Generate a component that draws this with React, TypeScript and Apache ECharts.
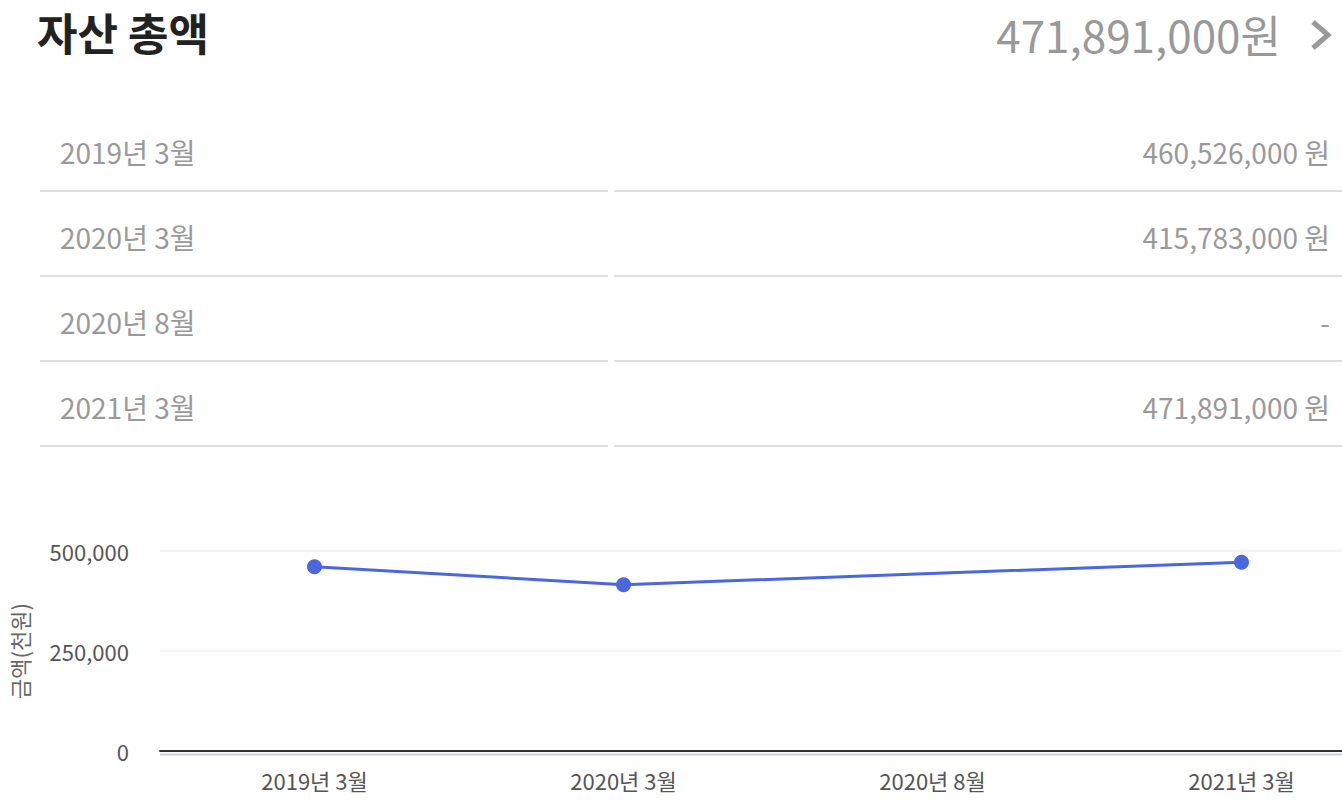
import React, { useEffect, useRef } from "react";
import * as echarts from "echarts";

const titleText = "자산 총액";
const categories = ["2019년 3월", "2020년 3월", "2020년 8월", "2021년 3월"];
// 자산 총액, 단위: 천원
const assetValues: (number | null)[] = [460526, 415783, null, 471891];
const yTicks = [0, 250000, 500000];
const yAxisName = "금액(천원)";

const FONT = "'Noto Sans CJK KR', 'Noto Sans', sans-serif";

function fmtWon(v: number | null, space: boolean) {
  if (v === null) return "-";
  return (v * 1000).toLocaleString("en-US") + (space ? " 원" : "원");
}

export default function App() {
  const ref = useRef<HTMLDivElement>(null);
  useEffect(() => {
    if (!ref.current) return;
    const chart = echarts.init(ref.current, undefined, { renderer: "svg" });
    const latest = [...assetValues].reverse().find((v) => v !== null) ?? null;
    const rowTop = 106;
    const rowH = 85;
    const graphics: any[] = [
      {
        type: "text",
        x: 37,
        y: 32,
        style: { text: titleText, font: `bold 44px ${FONT}`, fill: "#222", verticalAlign: "middle" },
      },
      {
        type: "text",
        x: 1281,
        y: 34,
        style: {
          text: fmtWon(latest, false),
          font: `44px ${FONT}`,
          fill: "#999",
          align: "right",
          verticalAlign: "middle",
        },
      },
      {
        type: "polyline",
        shape: { points: [[1313, 22], [1328, 35], [1313, 48]] },
        style: { stroke: "#999", lineWidth: 5, fill: null },
      },
      {
        type: "line",
        shape: { x1: 160, y1: 754.5, x2: 1400, y2: 754.5 },
        style: { stroke: "#c8d0e6", lineWidth: 2 },
      },
    ];
    categories.forEach((c, i) => {
      const cy = rowTop + rowH * i + 46;
      const ly = rowTop + rowH * (i + 1);
      graphics.push(
        {
          type: "text",
          x: 60,
          y: cy,
          style: { text: c, font: `28px ${FONT}`, fill: "#999", verticalAlign: "middle" },
        },
        {
          type: "text",
          x: 1330,
          y: cy,
          style: {
            text: fmtWon(assetValues[i], true),
            font: `28px ${FONT}`,
            fill: "#999",
            align: "right",
            verticalAlign: "middle",
          },
        },
        {
          type: "line",
          shape: { x1: 40, y1: ly, x2: 608, y2: ly },
          style: { stroke: "#dedede", lineWidth: 2 },
        },
        {
          type: "line",
          shape: { x1: 614, y1: ly, x2: 1400, y2: ly },
          style: { stroke: "#dedede", lineWidth: 2 },
        }
      );
    });

    chart.setOption({
      animation: false,
      textStyle: { fontFamily: FONT },
      graphic: graphics,
      grid: { left: 160, right: 4, top: 551, bottom: 51, outerBoundsMode: "none", containLabel: false },
      xAxis: {
        type: "category",
        data: categories,
        boundaryGap: true,
        axisLine: { show: true, lineStyle: { color: "#333", width: 2 } },
        axisTick: { show: false },
        axisLabel: { color: "#555", fontSize: 22, margin: 18, fontFamily: FONT },
        z: 5,
      },
      yAxis: {
        type: "value",
        min: yTicks[0],
        max: yTicks[yTicks.length - 1],
        interval: yTicks[1] - yTicks[0],
        name: yAxisName,
        nameLocation: "middle",
        nameRotate: 90,
        nameGap: 130,
        nameTextStyle: { color: "#666", fontSize: 22, fontFamily: FONT },
        axisLine: { show: false },
        axisTick: { show: false },
        axisLabel: {
          color: "#555",
          fontSize: 22,
          margin: 31,
          fontFamily: FONT,
          formatter: (v: number) => v.toLocaleString("en-US"),
        },
        splitLine: { show: true, lineStyle: { color: "#f3f3f3", width: 2 } },
      },
      series: [
        {
          type: "line",
          data: assetValues,
          connectNulls: true,
          symbol: "circle",
          symbolSize: 15,
          showSymbol: true,
          itemStyle: { color: "#4A67DE" },
          lineStyle: { color: "#4A67DE", width: 3 },
          z: 10,
        },
      ],
    });
    return () => chart.dispose();
  }, []);
  return (
    <div
      style={{
        position: "fixed",
        left: 0,
        top: 0,
        width: 1342,
        height: 802,
        overflow: "hidden",
        background: "#fff",
      }}
    >
      <div ref={ref} style={{ width: 1400, height: 802 }} />
    </div>
  );
}
